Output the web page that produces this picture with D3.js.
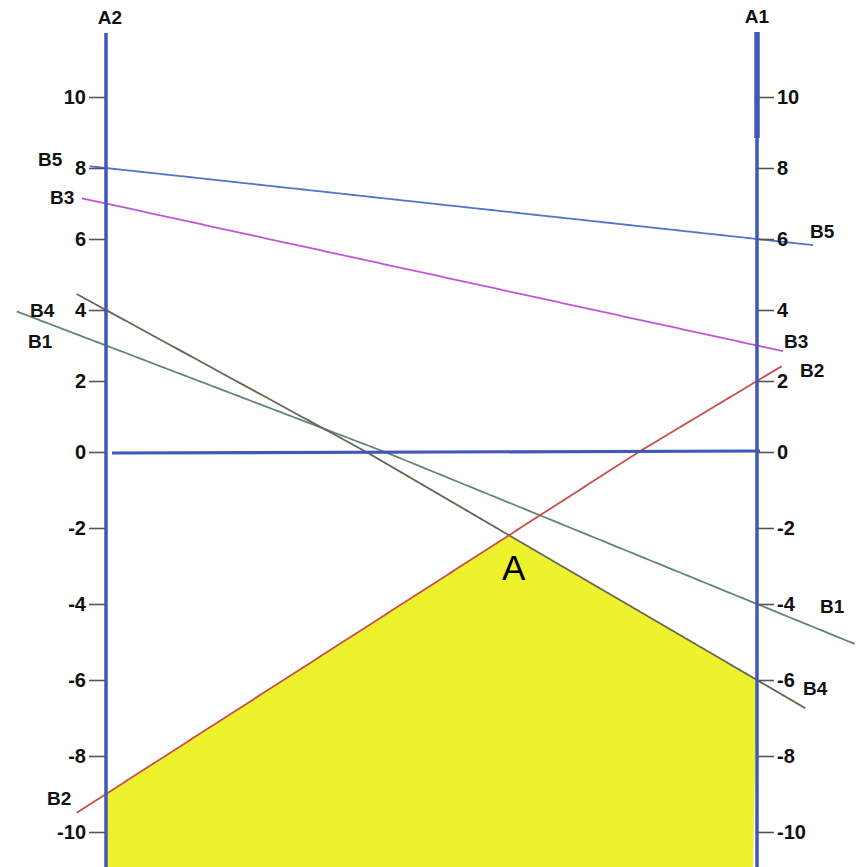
<!DOCTYPE html>
<html>
<head>
<meta charset="utf-8">
<script src="https://cdn.jsdelivr.net/npm/d3@7"></script>
<style>
  html,body{margin:0;padding:0;background:#fff;}
  svg{display:block;}
  text{font-family:"Liberation Sans",Arial,sans-serif;}
</style>
</head>
<body>
<svg id="chart" width="860" height="867"></svg>
<script>
// ---- data ----
const strategies = ["B1", "B2", "B3", "B4", "B5"];
const valuesA2 = [3, -9, 7, 4, 8];    // payoff when player plays A2 (left axis)
const valuesA1 = [-4, 2, 3, -6, 6];   // payoff when player plays A1 (right axis)
const tickValues = [-10, -8, -6, -4, -2, 0, 2, 4, 6, 8, 10];
const axisNames = ["A2", "A1"];
const solutionLabel = "A";

// ---- styling / layout (not data) ----
const lineColors = {B1: "#5f8a72", B2: "#c8504a", B3: "#c256d6", B4: "#6b6553", B5: "#5276c6"};
const lineExtent = {B1: [-0.137, 1.15], B2: [-0.045, 1.038], B3: [-0.037, 1.04], B4: [-0.045, 1.074], B5: [-0.025, 1.086]};
const axisColor = "#4357b5";

const svg = d3.select("#chart");
const W = 860, H = 867;

const x = d3.scaleLinear().domain([0, 1]).range([106, 757]);
const y = d3.scaleLinear().domain([-10, 0, 10]).range([832, 452, 97]);

const lines = strategies.map((s, i) => ({name: s, a2: valuesA2[i], a1: valuesA1[i]}));
const val = (l, p) => l.a2 + (l.a1 - l.a2) * p;
const lineGen = d3.line().x(d => x(d[0])).y(d => y(d[1]));

// lower envelope over [0,1], sampled finely
const samples = d3.range(0, 1.0001, 0.0025);
const env = samples.map(p => [p, d3.min(lines, l => val(l, p))]);
const lowest = env.reduce((m, d) => d[1] > m[1] ? d : m, env[0]);

// yellow region under lower envelope
const poly = env.map(d => [x(d[0]), y(d[1])]);
poly.push([x(1) - 4, H]);
poly.push([x(0), H]);
svg.append("path")
  .attr("d", d3.line()(poly) + "Z")
  .attr("fill", "#eef22c");

// strategy lines
lines.forEach(l => {
  const [p0, p1] = lineExtent[l.name];
  const pts = d3.range(p0, p1 + 1e-9, (p1 - p0) / 200).map(p => [p, val(l, p)]);
  svg.append("path")
    .attr("d", lineGen(pts))
    .attr("fill", "none")
    .attr("stroke", lineColors[l.name]).attr("stroke-width", 1.8);
});

// zero line
svg.append("line")
  .attr("x1", x(0) + 6).attr("x2", x(1) + 3)
  .attr("y1", y(0) + 1).attr("y2", y(0) - 1)
  .attr("stroke", axisColor).attr("stroke-width", 3.2);

// axes
const fmt = d => String(d);
const leftAxis = svg.append("g").attr("transform", `translate(${x(0)},0)`)
  .call(d3.axisLeft(y).tickValues(tickValues).tickFormat(fmt).tickSize(17).tickPadding(3));
const rightAxis = svg.append("g").attr("transform", `translate(${x(1)},0)`)
  .call(d3.axisRight(y).tickValues(tickValues).tickFormat(fmt).tickSize(17).tickPadding(3));
[leftAxis, rightAxis].forEach(g => {
  g.select(".domain").remove();
  g.selectAll(".tick line").attr("stroke", "#555").attr("stroke-width", 1.6);
  g.selectAll(".tick text").attr("fill", "#111").attr("font-size", 20).attr("font-weight", "bold");
});

svg.append("line").attr("x1", x(0)).attr("x2", x(0)).attr("y1", 33).attr("y2", H)
  .attr("stroke", axisColor).attr("stroke-width", 3.5);
svg.append("line").attr("x1", x(1)).attr("x2", x(1)).attr("y1", 32).attr("y2", H)
  .attr("stroke", axisColor).attr("stroke-width", 3.5);
svg.append("line").attr("x1", x(1)).attr("x2", x(1)).attr("y1", 32).attr("y2", 138)
  .attr("stroke", axisColor).attr("stroke-width", 5.5);

// axis names
svg.append("text").attr("x", x(0) + 4).attr("y", 24).attr("text-anchor", "middle")
  .attr("font-size", 19).attr("font-weight", "bold").attr("fill", "#111").text(axisNames[0]);
svg.append("text").attr("x", x(1)).attr("y", 23).attr("text-anchor", "middle")
  .attr("font-size", 19).attr("font-weight", "bold").attr("fill", "#111").text(axisNames[1]);

// strategy labels at both ends
const leftLabelPos = {B5: [38, 166], B3: [50, 204], B4: [30, 317], B1: [28, 348], B2: [47, 805]};
const rightLabelPos = {B5: [810, 238], B3: [784, 348], B2: [800, 377], B1: [820, 613], B4: [803, 695]};
strategies.forEach(s => {
  svg.append("text").attr("x", leftLabelPos[s][0]).attr("y", leftLabelPos[s][1])
    .attr("font-size", 19).attr("font-weight", "bold").attr("fill", "#111").text(s);
  svg.append("text").attr("x", rightLabelPos[s][0]).attr("y", rightLabelPos[s][1])
    .attr("font-size", 19).attr("font-weight", "bold").attr("fill", "#111").text(s);
});

// solution point label
svg.append("text").attr("x", x(lowest[0]) + 4).attr("y", y(lowest[1]) + 44)
  .attr("text-anchor", "middle").attr("font-size", 35).attr("fill", "#000").text(solutionLabel);
</script>
</body>
</html>
